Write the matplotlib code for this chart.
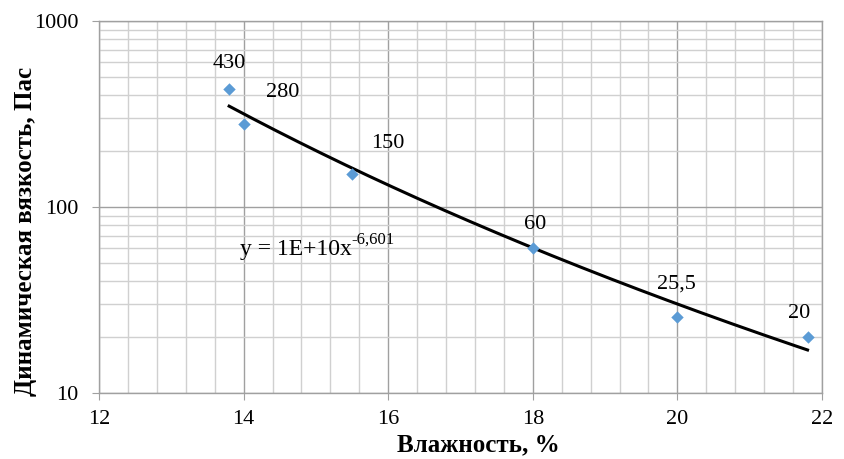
import numpy as np
import matplotlib
matplotlib.use("Agg")
import matplotlib.pyplot as plt
from matplotlib.ticker import MultipleLocator, LogLocator, FixedLocator, NullFormatter

humidity = [13.8, 14.0, 15.5, 18.0, 20.0, 21.8]
viscosity = [430, 280, 150, 60, 25.5, 20]
point_labels = ["430", "280", "150", "60", "25,5", "20"]
x_ticks = [12, 14, 16, 18, 20, 22]
y_ticks = [10, 100, 1000]
y_tick_labels = ["10", "100", "1000"]

plt.rcParams['font.family'] = ['Liberation Serif', 'DejaVu Serif']

fig = plt.figure(figsize=(8.45, 4.59), dpi=100)
ax = fig.add_axes([99/845, 1-393/459, (822-99)/845, (393-21)/459])

ax.set_yscale('log')
ax.set_xlim(12, 22)
ax.set_ylim(10, 1000)

ax.xaxis.set_major_locator(FixedLocator(x_ticks))
ax.xaxis.set_minor_locator(MultipleLocator(0.4))
ax.yaxis.set_major_locator(FixedLocator(y_ticks))
ax.yaxis.set_minor_locator(LogLocator(base=10, subs=np.arange(2, 10)))
ax.yaxis.set_minor_formatter(NullFormatter())
ax.set_yticklabels(y_tick_labels)

ax.grid(which='minor', color='#d0d0d0', linewidth=1.0)
ax.grid(which='major', color='#a0a0a0', linewidth=1.0)
ax.set_axisbelow(True)

for s in ax.spines.values():
    s.set_color('#a0a0a0')
    s.set_linewidth(1.0)

ax.tick_params(which='major', direction='out', length=5, color='#a0a0a0', labelsize=16)
ax.tick_params(axis='x', which='major', pad=7)
ax.tick_params(axis='y', which='major', pad=10)
ax.tick_params(which='minor', length=0)

# power trendline fit
xs = np.array(humidity)
ys = np.array(viscosity)
b, a = np.polyfit(np.log(xs), np.log(ys), 1)
xf = np.linspace(xs.min(), xs.max(), 200)
ax.plot(xf, np.exp(a) * xf ** b, color='black', linewidth=2.2, zorder=3)

ax.scatter(humidity, viscosity, marker='D', s=40, color='#5b9bd5', zorder=4, linewidths=0)

offsets = [(0, 12), (28, 16), (26, 15), (2, 10), (-1, 17), (-6, 10)]
for x, y, lab, (dx, dy) in zip(humidity, viscosity, point_labels, offsets):
    ax.annotate(lab, (x, y), xytext=(dx, dy), textcoords='offset points',
                ha='center', va='bottom', fontsize=16)

t = ax.text(13.95, 55, 'y = 1E+10x', fontsize=17, ha='left', va='baseline')
ax.annotate('-6,601', xy=(1.0, 0.6), xycoords=t, fontsize=12, ha='left', va='bottom')

ax.set_xlabel('Влажность, %', fontsize=18, fontweight='bold')
ax.set_ylabel('Динамическая вязкость, Пас', fontsize=18, fontweight='bold')
ax.xaxis.set_label_coords(0.525, -0.108)
ax.yaxis.set_label_coords(-0.086, 0.433)

fig.savefig('out.png', dpi=100)
